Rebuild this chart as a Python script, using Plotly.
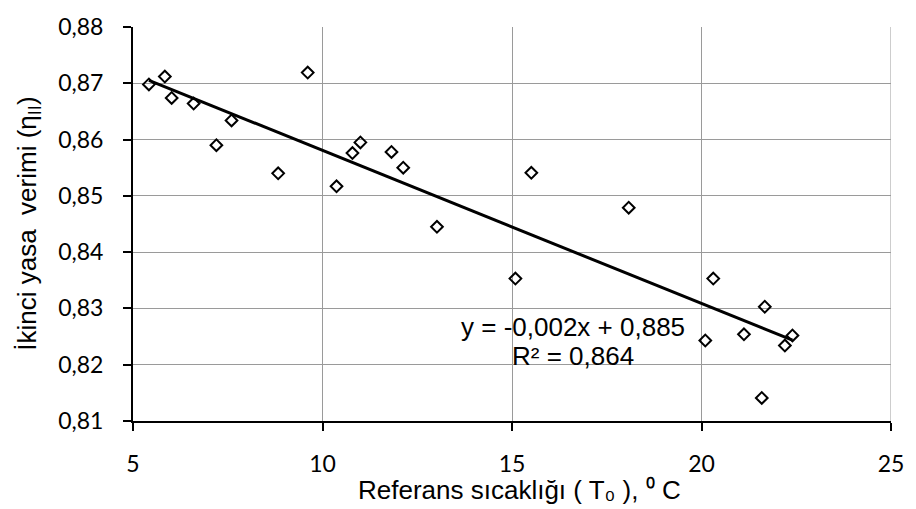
import numpy as np
import plotly.graph_objects as go

# Reference temperature (°C) and second-law efficiency
t0 = [5.42, 5.84, 6.02, 6.60, 7.60, 7.20, 8.83, 9.61, 10.37, 10.79, 11.00, 11.82,
      12.13, 13.02, 15.09, 15.51, 18.08, 20.31, 20.10, 21.67, 21.12, 21.59, 22.20, 22.40]
eta = [0.8698, 0.8712, 0.8674, 0.8664, 0.8634, 0.8590, 0.8540, 0.8719, 0.8517, 0.8576,
       0.8595, 0.8578, 0.8550, 0.8445, 0.8353, 0.8541, 0.8479, 0.8353, 0.8243, 0.8303,
       0.8254, 0.8141, 0.8234, 0.8252]

x_ticks = [5, 10, 15, 20, 25]
y_ticks = [0.81, 0.82, 0.83, 0.84, 0.85, 0.86, 0.87, 0.88]
equation_lines = ["y = -0,002x + 0,885", "R² = 0,864"]
x_title = "Referans sıcaklığı ( T₀ ), ⁰ C"
y_title = "İkinci yasa \u00a0verimi (η<sub>II</sub>)"

# Linear trend line (least squares)
slope, intercept = np.polyfit(t0, eta, 1)
x_fit = np.array([min(t0), max(t0)])
y_fit = slope * x_fit + intercept

GRID = "#9a9a9a"
TITLE_FONT = dict(family="Liberation Sans", size=26, color="black")

fig = go.Figure()
fig.add_trace(go.Scatter(
    x=x_fit, y=y_fit, mode="lines",
    line=dict(color="black", width=3), showlegend=False, hoverinfo="skip"))
fig.add_trace(go.Scatter(
    x=t0, y=eta, mode="markers",
    marker=dict(symbol="diamond-open", size=9, color="black", line=dict(width=2, color="black")),
    showlegend=False))

# trend-line equation, one annotation per line
for text, yv in zip(equation_lines, [0.82672, 0.82155]):
    fig.add_annotation(
        x=16.61, y=yv, xref="x", yref="y", text=text, showarrow=False,
        xanchor="center", yanchor="middle", font=TITLE_FONT)

# axis titles
fig.add_annotation(
    x=0.5105, y=-0.1760, xref="paper", yref="paper", text=x_title, showarrow=False,
    xanchor="center", yanchor="middle", borderpad=0, font=TITLE_FONT)
fig.add_annotation(
    x=-0.1389, y=0.5, xref="paper", yref="paper", text=y_title, showarrow=False,
    textangle=-90, xanchor="center", yanchor="middle", font=TITLE_FONT)

fig.update_layout(
    width=916, height=509,
    margin=dict(l=133, r=20, t=15, b=88),
    paper_bgcolor="white", plot_bgcolor="white",
    separators=",.",
    font=dict(family="Lato", color="black"),
    xaxis=dict(
        range=[5, 25], tickvals=x_ticks, ticks="outside", ticklen=8, tickwidth=2,
        tickcolor="black", showline=True, linecolor="black", linewidth=2,
        showgrid=True, gridcolor=GRID, gridwidth=1, zeroline=False,
        tickfont=dict(family="Lato", size=23, color="black"), ticklabelstandoff=13,
    ),
    yaxis=dict(
        range=[0.81, 0.88], tickvals=y_ticks, tickformat=".2f", ticks="outside", ticklen=8,
        tickwidth=2, tickcolor="black", showline=True, linecolor="black", linewidth=2,
        showgrid=True, gridcolor=GRID, gridwidth=1, zeroline=False,
        tickfont=dict(family="Lato", size=23, color="black"), ticklabelstandoff=15,
    ),
)
# gridline along the right edge of the plot area
fig.add_shape(type="line", xref="x", yref="paper", x0=25, x1=25, y0=0, y1=1,
              line=dict(color=GRID, width=1))

fig.write_html("out.html")
